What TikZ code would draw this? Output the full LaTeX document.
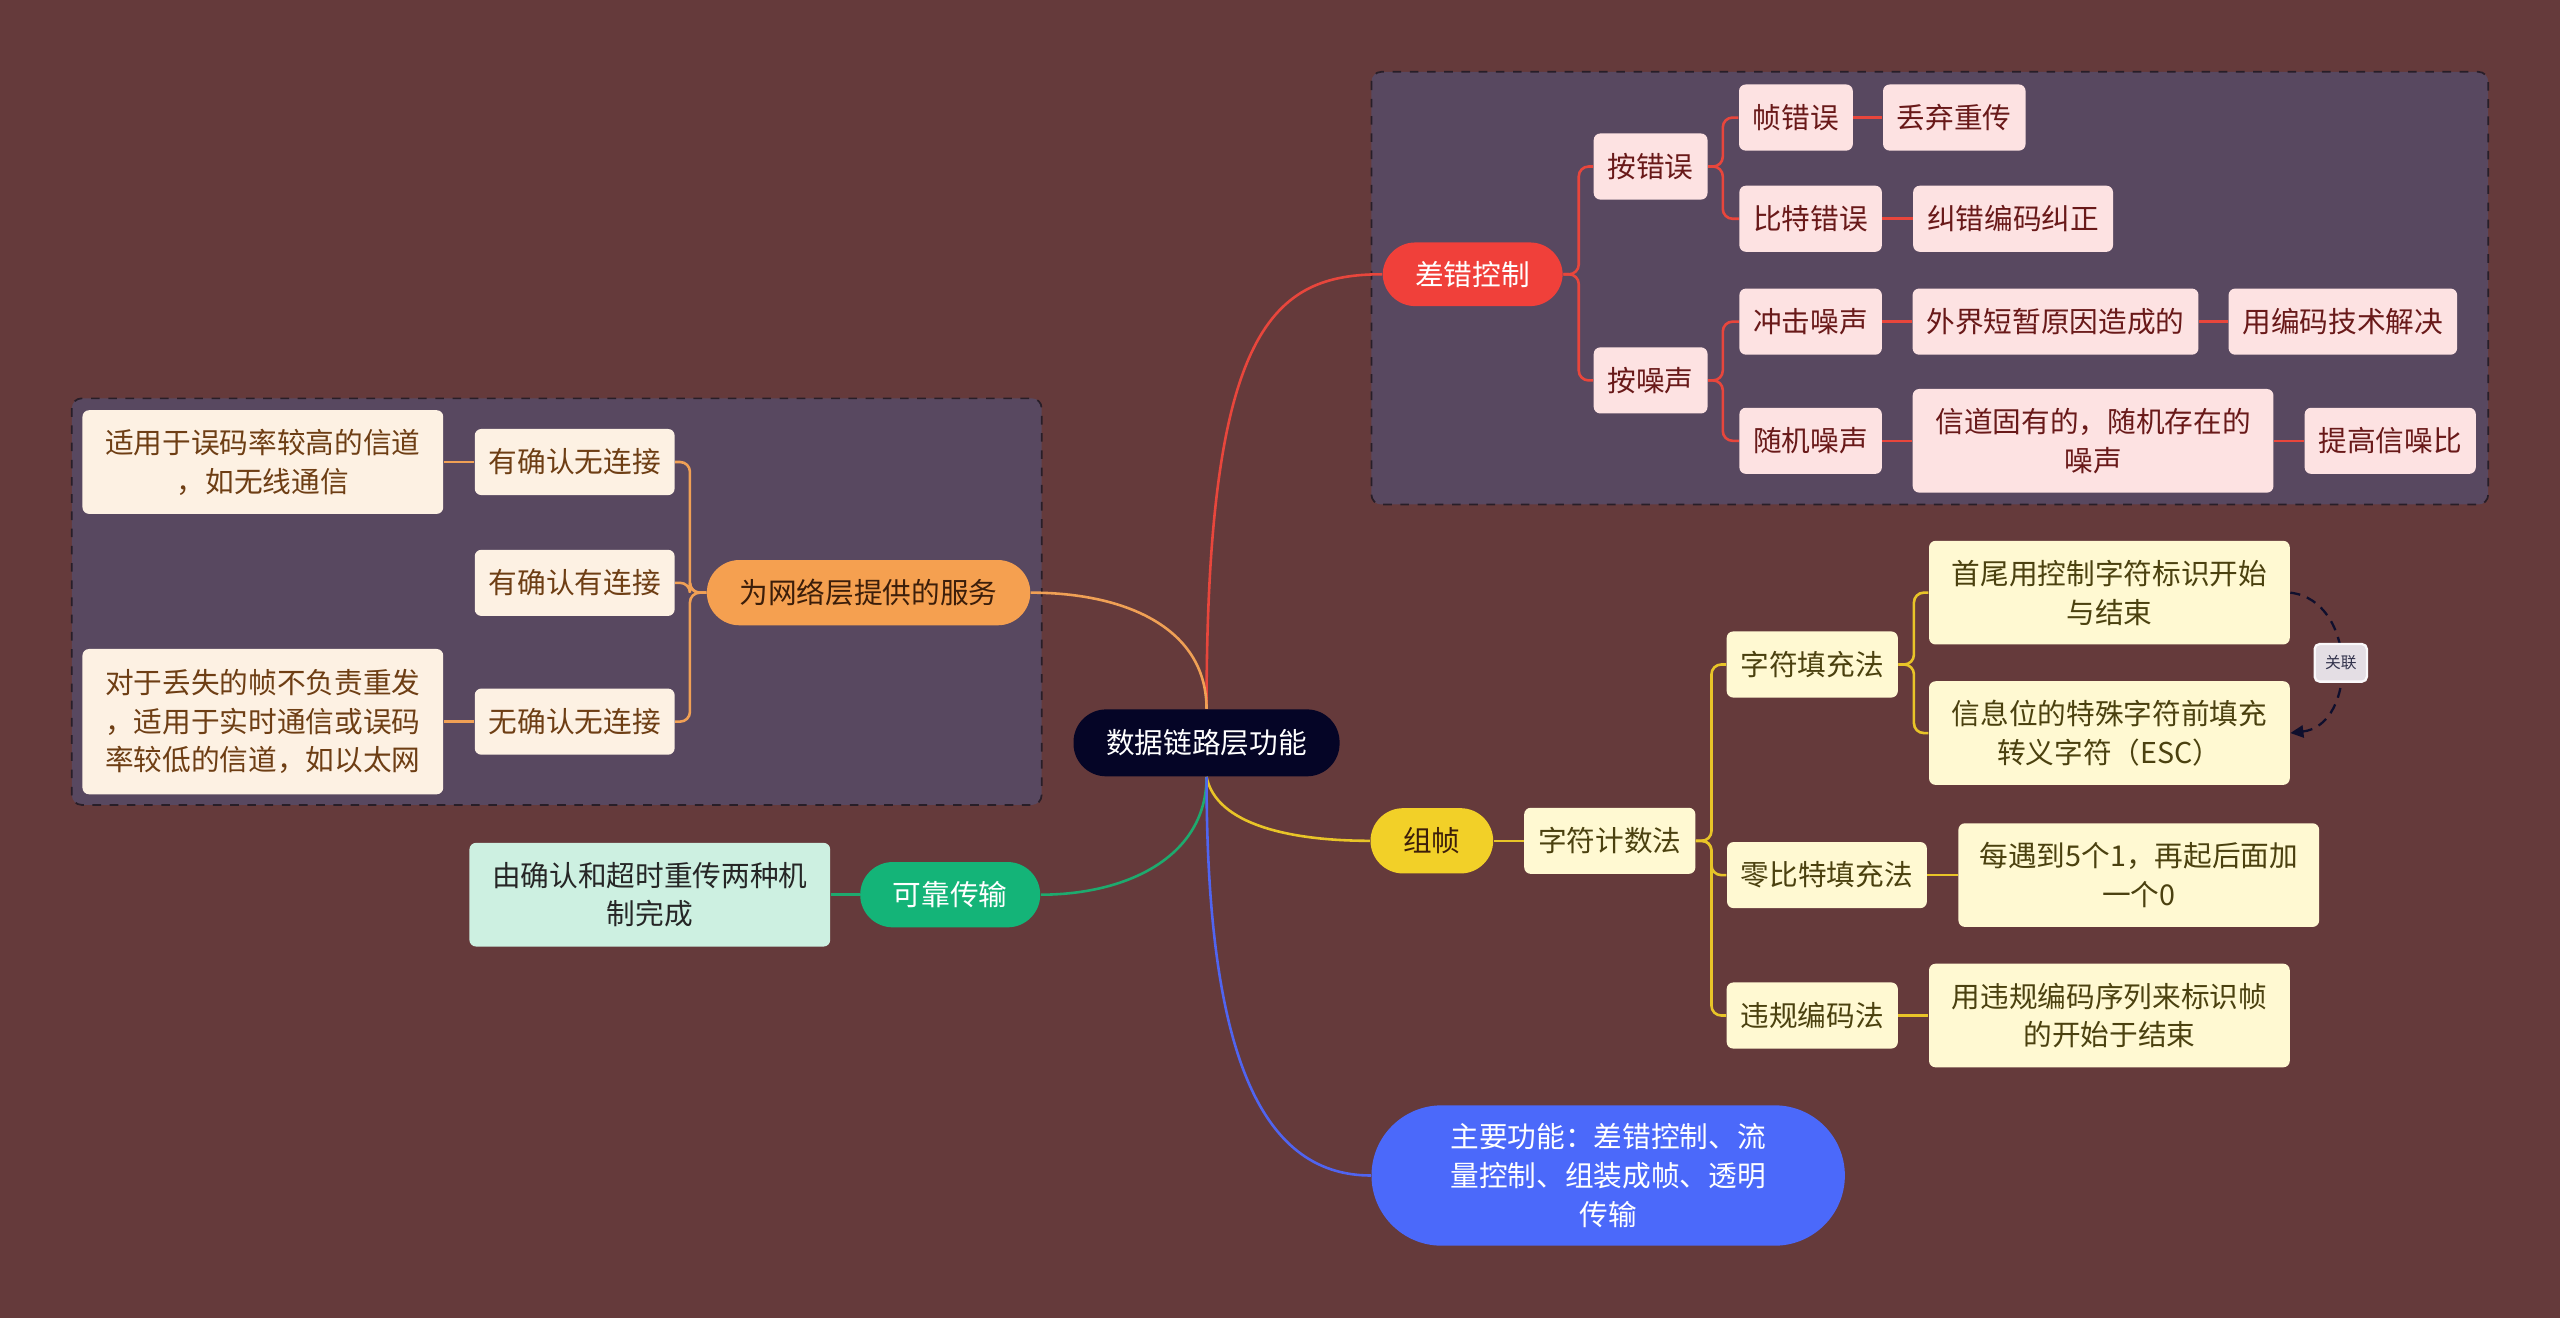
\documentclass[tikz,border=0pt]{standalone}
\usepackage{fontspec}
\setmainfont{Noto Sans CJK SC}
\usetikzlibrary{positioning,arrows.meta,calc}

\definecolor{bgbrown}{RGB}{101,58,59}
\definecolor{grpfill}{RGB}{88,72,96}
\definecolor{grpline}{RGB}{40,30,40}
\definecolor{rootc}{RGB}{5,5,38}
\definecolor{redc}{RGB}{240,64,58}
\definecolor{redl}{RGB}{232,70,60}
\definecolor{pinkc}{RGB}{253,226,226}
\definecolor{pinkt}{RGB}{105,25,25}
\definecolor{orangec}{RGB}{245,160,80}
\definecolor{orangel}{RGB}{240,160,85}
\definecolor{orannt}{RGB}{60,30,10}
\definecolor{creamc}{RGB}{253,241,227}
\definecolor{creamt}{RGB}{110,62,20}
\definecolor{greenc}{RGB}{20,180,120}
\definecolor{greenl}{RGB}{30,170,110}
\definecolor{mintc}{RGB}{205,240,225}
\definecolor{yellowc}{RGB}{242,208,40}
\definecolor{yellowl}{RGB}{232,196,40}
\definecolor{lemonc}{RGB}{255,249,210}
\definecolor{lemont}{RGB}{75,65,15}
\definecolor{bluec}{RGB}{75,105,250}
\definecolor{bluel}{RGB}{80,100,240}
\definecolor{navyc}{RGB}{15,15,45}
\definecolor{tagc}{RGB}{228,222,228}

\begin{document}
\begin{tikzpicture}[
  x=0.02cm, y=-0.02cm,
  font=\fontsize{10pt}{13.5pt}\selectfont,
  pill/.style={rounded corners=0.4cm, minimum height=0.8cm, inner xsep=0.4cm,
               inner ysep=0pt, align=center},
  leaf/.style={rounded corners=0.08cm, minimum height=0.81cm, inner xsep=0.17cm,
               inner ysep=0.1cm, align=center},
  wide/.style={leaf, minimum width=4.42cm, minimum height=1.27cm},
  pk/.style={leaf, fill=pinkc, text=pinkt},
  cr/.style={leaf, fill=creamc, text=creamt},
  lm/.style={leaf, fill=lemonc, text=lemont},
  grp/.style={draw=grpline, fill=grpfill, dashed, rounded corners=0.12cm, line width=0.6pt},
  elb/.style={rounded corners=0.12cm, line width=0.9pt},
  crv/.style={line width=0.9pt},
  tag/.style={font=\fontsize{5.5pt}{6pt}\selectfont, fill=tagc, draw=white!80!tagc,
              rounded corners=0.06cm, minimum width=0.64cm, minimum height=0.46cm,
              inner sep=1pt, text=navyc!85}
]
\fill[bgbrown] (0,0) rectangle (1568,807);
\draw[grp] (840,44) rectangle (1524,309);
\draw[grp] (44,244) rectangle (638,493);

% centre
\node[pill, fill=rootc, text=white, minimum height=0.82cm] (root) at (739,455) {数据链路层功能};

% 差错控制
\node[pill, fill=redc, text=white, minimum height=0.78cm] (err) at (902,168) {差错控制};
\node[pk] (bye) at (1011,102) {按错误};
\node[pk] (byn) at (1011,233) {按噪声};
\node[pk] (fe) at (1100,72) {帧错误};
\node[pk] (fe1) at (1197,72) {丢弃重传};
\node[pk] (be) at (1109,134) {比特错误};
\node[pk] (be1) at (1233,134) {纠错编码纠正};
\node[pk] (imp) at (1109,197) {冲击噪声};
\node[pk] (imp1) at (1259,197) {外界短暂原因造成的};
\node[pk] (imp2) at (1435,197) {用编码技术解决};
\node[pk] (rn) at (1109,270) {随机噪声};
\node[pk, wide] (rn1) at (1282,270) {信道固有的，随机存在的\\噪声};
\node[pk] (rn2) at (1464,270) {提高信噪比};

% 为网络层提供的服务
\node[pill, fill=orangec, text=orannt] (svc) at (532,363) {为网络层提供的服务};
\node[cr] (ac1) at (352,283) {有确认无连接};
\node[cr] (ac2) at (352,357) {有确认有连接};
\node[cr] (ac3) at (352,442) {无确认无连接};
\node[cr, wide] (ac1n) at (161,283) {适用于误码率较高的信道\\，如无线通信};
\node[cr, wide, minimum height=1.78cm] (ac3n) at (161,442) {对于丢失的帧不负责重发\\，适用于实时通信或误码\\率较低的信道，如以太网};

% 可靠传输
\node[pill, fill=greenc, text=white] (rel) at (582,548) {可靠传输};
\node[wide, fill=mintc, text=black!85] (reln) at (398,548) {由确认和超时重传两种机\\制完成};

% 组帧
\node[pill, fill=yellowc, text=orannt] (frm) at (877,515) {组帧};
\node[lm] (cnt) at (986,515) {字符计数法};
\node[lm] (stf) at (1110,407) {字符填充法};
\node[lm] (zb) at (1119,536) {零比特填充法};
\node[lm] (vio) at (1110,622) {违规编码法};
\node[lm, wide] (stf1) at (1292,363) {首尾用控制字符标识开始\\与结束};
\node[lm, wide] (stf2) at (1292,449) {信息位的特殊字符前填充\\转义字符（ESC）};
\node[lm, wide] (zb1) at (1310,536) {每遇到5个1，再起后面加\\一个0};
\node[lm, wide] (vio1) at (1292,622) {用违规编码序列来标识帧\\的开始于结束};

% 主要功能
\node[pill, fill=bluec, text=white, rounded corners=0.86cm, minimum width=5.8cm,
      minimum height=1.72cm] (sum) at (985,720) {主要功能：差错控制、流\\量控制、组装成帧、透明\\传输};

% branches from the centre
\draw[crv, redl] (root.north) .. controls (739,200) and (780,168) .. (err.west);
\draw[crv, orangel] (root.north) .. controls (739,385) and (690,363) .. (svc.east);
\draw[crv, greenl] (root.south) .. controls (739,525) and (690,548) .. (rel.east);
\draw[crv, yellowl] (root.south) .. controls (745,505) and (790,515) .. (frm.west);
\draw[crv, bluel] (root.south) .. controls (739,640) and (770,720) .. (sum.west);

% sub-branches
\foreach \a/\b in {err/bye, err/byn} \draw[elb, redl] (\a.east) -- ++(9.5,0) |- (\b.west);
\foreach \a/\b in {bye/fe, bye/be, byn/imp, byn/rn} \draw[elb, redl] (\a.east) -- ++(9,0) |- (\b.west);
\foreach \a/\b in {fe/fe1, be/be1, imp/imp1, imp1/imp2, rn/rn1, rn1/rn2} \draw[crv, redl] (\a) -- (\b);

\foreach \b in {ac1, ac2, ac3} \draw[elb, orangel] (svc.west) -- ++(-10,0) |- (\b.east);
\foreach \a/\b in {ac1/ac1n, ac3/ac3n} \draw[crv, orangel] (\a) -- (\b);

\draw[crv, greenl] (rel) -- (reln);

\draw[crv, yellowl] (frm) -- (cnt);
\foreach \b in {stf, zb, vio} \draw[elb, yellowl] (cnt.east) -- ++(9.5,0) |- (\b.west);
\foreach \b in {stf1, stf2} \draw[elb, yellowl] (stf.east) -- ++(9.5,0) |- (\b.west);
\foreach \a/\b in {zb/zb1, vio/vio1} \draw[crv, yellowl] (\a) -- (\b);

% 关联
\draw[navyc, line width=0.8pt, dash pattern=on 3.5pt off 2.5pt, -{Triangle[length=1.6mm, width=1.5mm]}]
  (stf1.east) .. controls (1444,368) and (1444,444) .. (stf2.east)
  node[pos=0.5, tag, solid] (lnk) {关联};
\end{tikzpicture}
\end{document}
